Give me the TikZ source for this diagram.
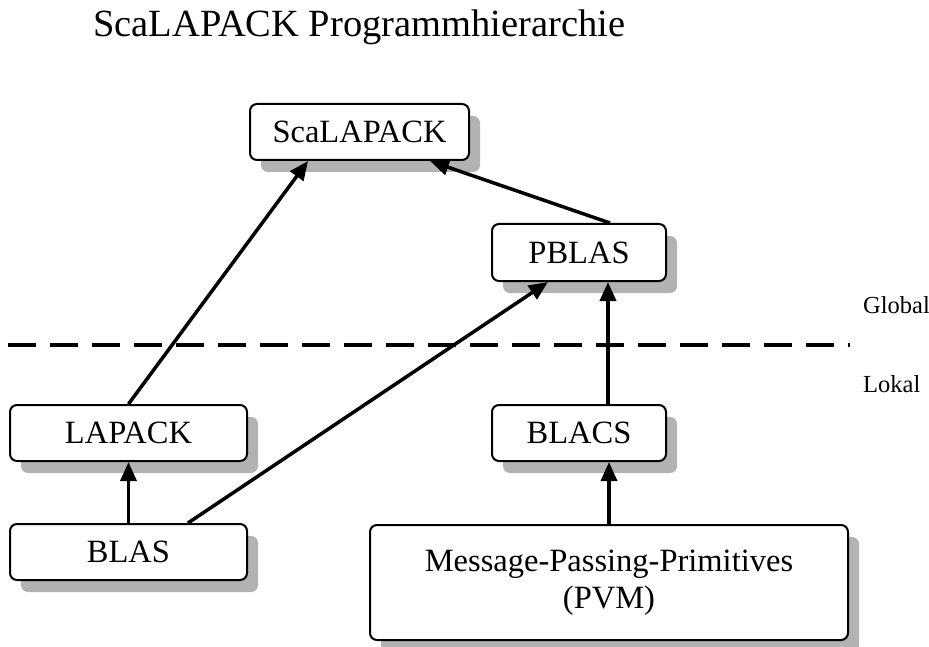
\documentclass[tikz,border=0pt]{standalone}
\usepackage{fontspec}
\setmainfont{Liberation Serif}
\usetikzlibrary{arrows.meta,shadows,calc}

\begin{document}
\begin{tikzpicture}[x=1pt,y=-1pt,
  box/.style={draw, line width=2pt, rounded corners=7pt, fill=white,
    font=\fontsize{32.5}{37}\selectfont, align=center, inner sep=0pt,
    drop shadow={shadow xshift=11pt, shadow yshift=-12pt, fill=black!30, opacity=1}},
  link/.style={line width=3.5pt, -{Triangle[length=19pt,width=16pt]}},
  layer/.style={font=\fontsize{24.5}{28}\selectfont, inner sep=0pt, anchor=base west},
  divider/.style={line width=4pt, dash pattern=on 28pt off 14pt}]

\useasboundingbox (0,0) rectangle (929,647);

% title
\node[font=\fontsize{38.5}{44}\selectfont, inner sep=0pt, anchor=base west]
  (title) at (93,37) {ScaLAPACK Programmhierarchie};

% library boxes
\node[box, minimum width=219pt, minimum height=56pt] (sca)    at (359.5,132) {ScaLAPACK};
\node[box, minimum width=174pt, minimum height=57pt] (pblas)  at (579,252.5) {PBLAS};
\node[box, minimum width=237pt, minimum height=56pt] (lapack) at (128.5,433) {LAPACK};
\node[box, minimum width=174pt, minimum height=56pt] (blacs)  at (579,433)   {BLACS};
\node[box, minimum width=237pt, minimum height=56pt] (blas)   at (128.5,552) {BLAS};
\node[box, minimum width=478pt, minimum height=115pt] (mpp)   at (609,582.5)
  {Message-Passing-Primitives\\(PVM)};

% global / local divider
\coordinate (dl) at (8,345);
\coordinate (dr) at (850,345);
\draw[divider] (dl) -- (dr);
\node[layer] (global) at (863,313) {Global};
\node[layer] (lokal)  at (863,392) {Lokal};

% call hierarchy
\draw[link] (lapack.north) -- ([xshift=-51.5pt]sca.south);
\draw[link] ([xshift=31pt]pblas.north) -- ([xshift=70.5pt]sca.south);
\draw[link] ([xshift=29pt]blacs.north) -- ([xshift=29pt]pblas.south);
\draw[link] ([xshift=59.5pt]blas.north) -- ([xshift=-31pt]pblas.south);
\draw[link] (blas.north) -- (lapack.south);
\draw[link] (mpp.north) -- ([xshift=30pt]blacs.south);
\end{tikzpicture}
\end{document}
